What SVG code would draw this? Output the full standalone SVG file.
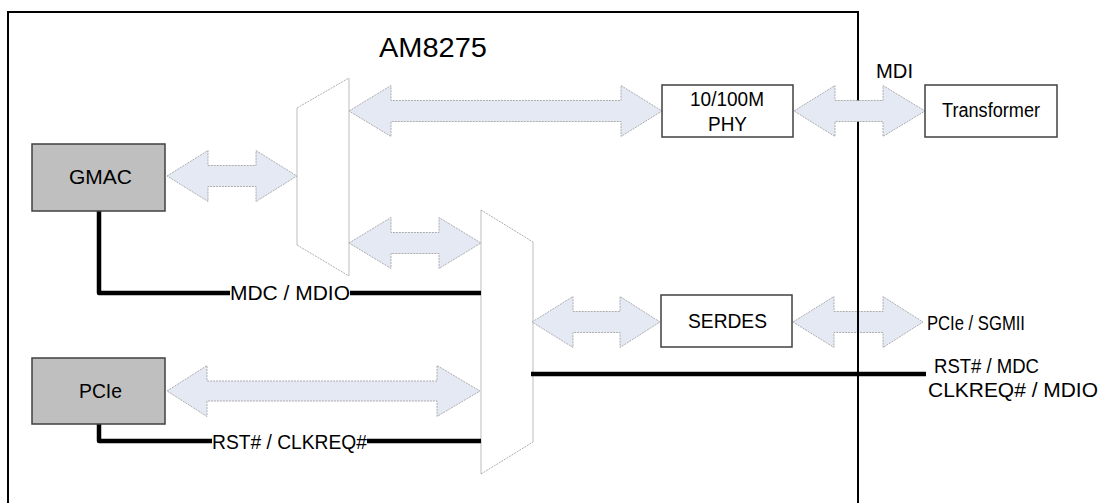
<svg xmlns="http://www.w3.org/2000/svg" width="1101" height="503" viewBox="0 0 1101 503">
<style>
text{font-family:"Liberation Sans",Arial,Helvetica,sans-serif;fill:#000;}
.lbl{font-size:20px;}
.box{fill:#fff;stroke:#404040;stroke-width:1.5;}
.gbox{fill:#bfbfbf;stroke:#404040;stroke-width:1.5;}
.arr{fill:#e5e9f4;stroke:#9a9a9a;stroke-width:0.8;stroke-dasharray:2 1;}
.sig{fill:none;stroke:#000;stroke-width:4.5;stroke-linejoin:round;}
.muxv{fill:none;stroke:#c8c8c8;stroke-width:1.2;}
.muxs{fill:none;stroke:#999;stroke-width:0.8;stroke-dasharray:2 1;}
</style>
<rect width="1101" height="503" fill="#fff"/>
<g id="am8275">
<rect x="8" y="12" width="850" height="520" fill="none" stroke="#000" stroke-width="2"/>
<text x="379" y="57" font-size="28" textLength="108" lengthAdjust="spacingAndGlyphs">AM8275</text>
</g>
<g id="mux1">
<polygon points="297,108 349,78 349,276 297,245" fill="#fff" stroke="none"/>
<path class="muxv" d="M297,108V245M349,78V276"/>
<path class="muxs" d="M297,108L349,78M297,245L349,276"/>
</g>
<g id="mux2">
<polygon points="481,210 533,242 533,442 481,474" fill="#fff" stroke="none"/>
<path class="muxv" d="M481,210V474M533,242V442"/>
<path class="muxs" d="M481,210L533,242M481,474L533,442"/>
</g>
<g id="connectors">
<polygon class="arr" points="167,176 208,150.5 208,165.5 256,165.5 256,150.5 297,176 256,201.5 256,186.5 208,186.5 208,201.5"/>
<polygon class="arr" points="349,111 391,85.5 391,100.5 621,100.5 621,85.5 662,111 621,136.5 621,121.5 391,121.5 391,136.5"/>
<polygon class="arr" points="794,111 835,85.5 835,100.5 883,100.5 883,85.5 925,111 883,136.5 883,121.5 835,121.5 835,136.5"/>
<polygon class="arr" points="349,243 391,217.5 391,232.5 439,232.5 439,217.5 481,243 439,268.5 439,253.5 391,253.5 391,268.5"/>
<polygon class="arr" points="532,322 573,296.5 573,311.5 620,311.5 620,296.5 660,322 620,347.5 620,332.5 573,332.5 573,347.5"/>
<polygon class="arr" points="793,322 834,296.5 834,311.5 883,311.5 883,296.5 923,322 883,347.5 883,332.5 834,332.5 834,347.5"/>
<polygon class="arr" points="167,391 207,365.5 207,381 437,381 437,365.5 480,391 437,416.5 437,401 207,401 207,416.5"/>
<path d="M858,311V333" stroke="#000" stroke-width="2"/>
<path class="sig" d="M99,211V293H230M350,293H481"/>
<path class="sig" d="M99,424V441H212M367,441H481"/>
<path class="sig" d="M531,374H926"/>
<text class="lbl" x="230" y="300" textLength="120" lengthAdjust="spacingAndGlyphs">MDC / MDIO</text>
<text class="lbl" x="212" y="449" textLength="155" lengthAdjust="spacingAndGlyphs">RST# / CLKREQ#</text>
<text class="lbl" x="876" y="78" textLength="37" lengthAdjust="spacingAndGlyphs">MDI</text>
<text class="lbl" x="927" y="330" textLength="98" lengthAdjust="spacingAndGlyphs">PCIe / SGMII</text>
<text class="lbl" x="934" y="373" textLength="105" lengthAdjust="spacingAndGlyphs">RST# / MDC</text>
<text class="lbl" x="928" y="397" textLength="170" lengthAdjust="spacingAndGlyphs">CLKREQ# / MDIO</text>
</g>
<g id="gmac">
<rect class="gbox" x="32" y="144" width="133" height="67"/>
<text class="lbl" x="69" y="184" textLength="63" lengthAdjust="spacingAndGlyphs">GMAC</text>
</g>
<g id="pcie">
<rect class="gbox" x="32" y="358" width="133" height="66"/>
<text class="lbl" x="79" y="398" textLength="43" lengthAdjust="spacingAndGlyphs">PCIe</text>
</g>
<g id="phy">
<rect class="box" x="662" y="85" width="131" height="52"/>
<text class="lbl" x="690" y="106" textLength="74" lengthAdjust="spacingAndGlyphs">10/100M</text>
<text class="lbl" x="708" y="131" textLength="39" lengthAdjust="spacingAndGlyphs">PHY</text>
</g>
<g id="transformer">
<rect class="box" x="925" y="85" width="132" height="52"/>
<text class="lbl" x="942" y="117" textLength="98" lengthAdjust="spacingAndGlyphs">Transformer</text>
</g>
<g id="serdes">
<rect class="box" x="661" y="295" width="131" height="52"/>
<text class="lbl" x="688" y="328" textLength="79" lengthAdjust="spacingAndGlyphs">SERDES</text>
</g>
</svg>
